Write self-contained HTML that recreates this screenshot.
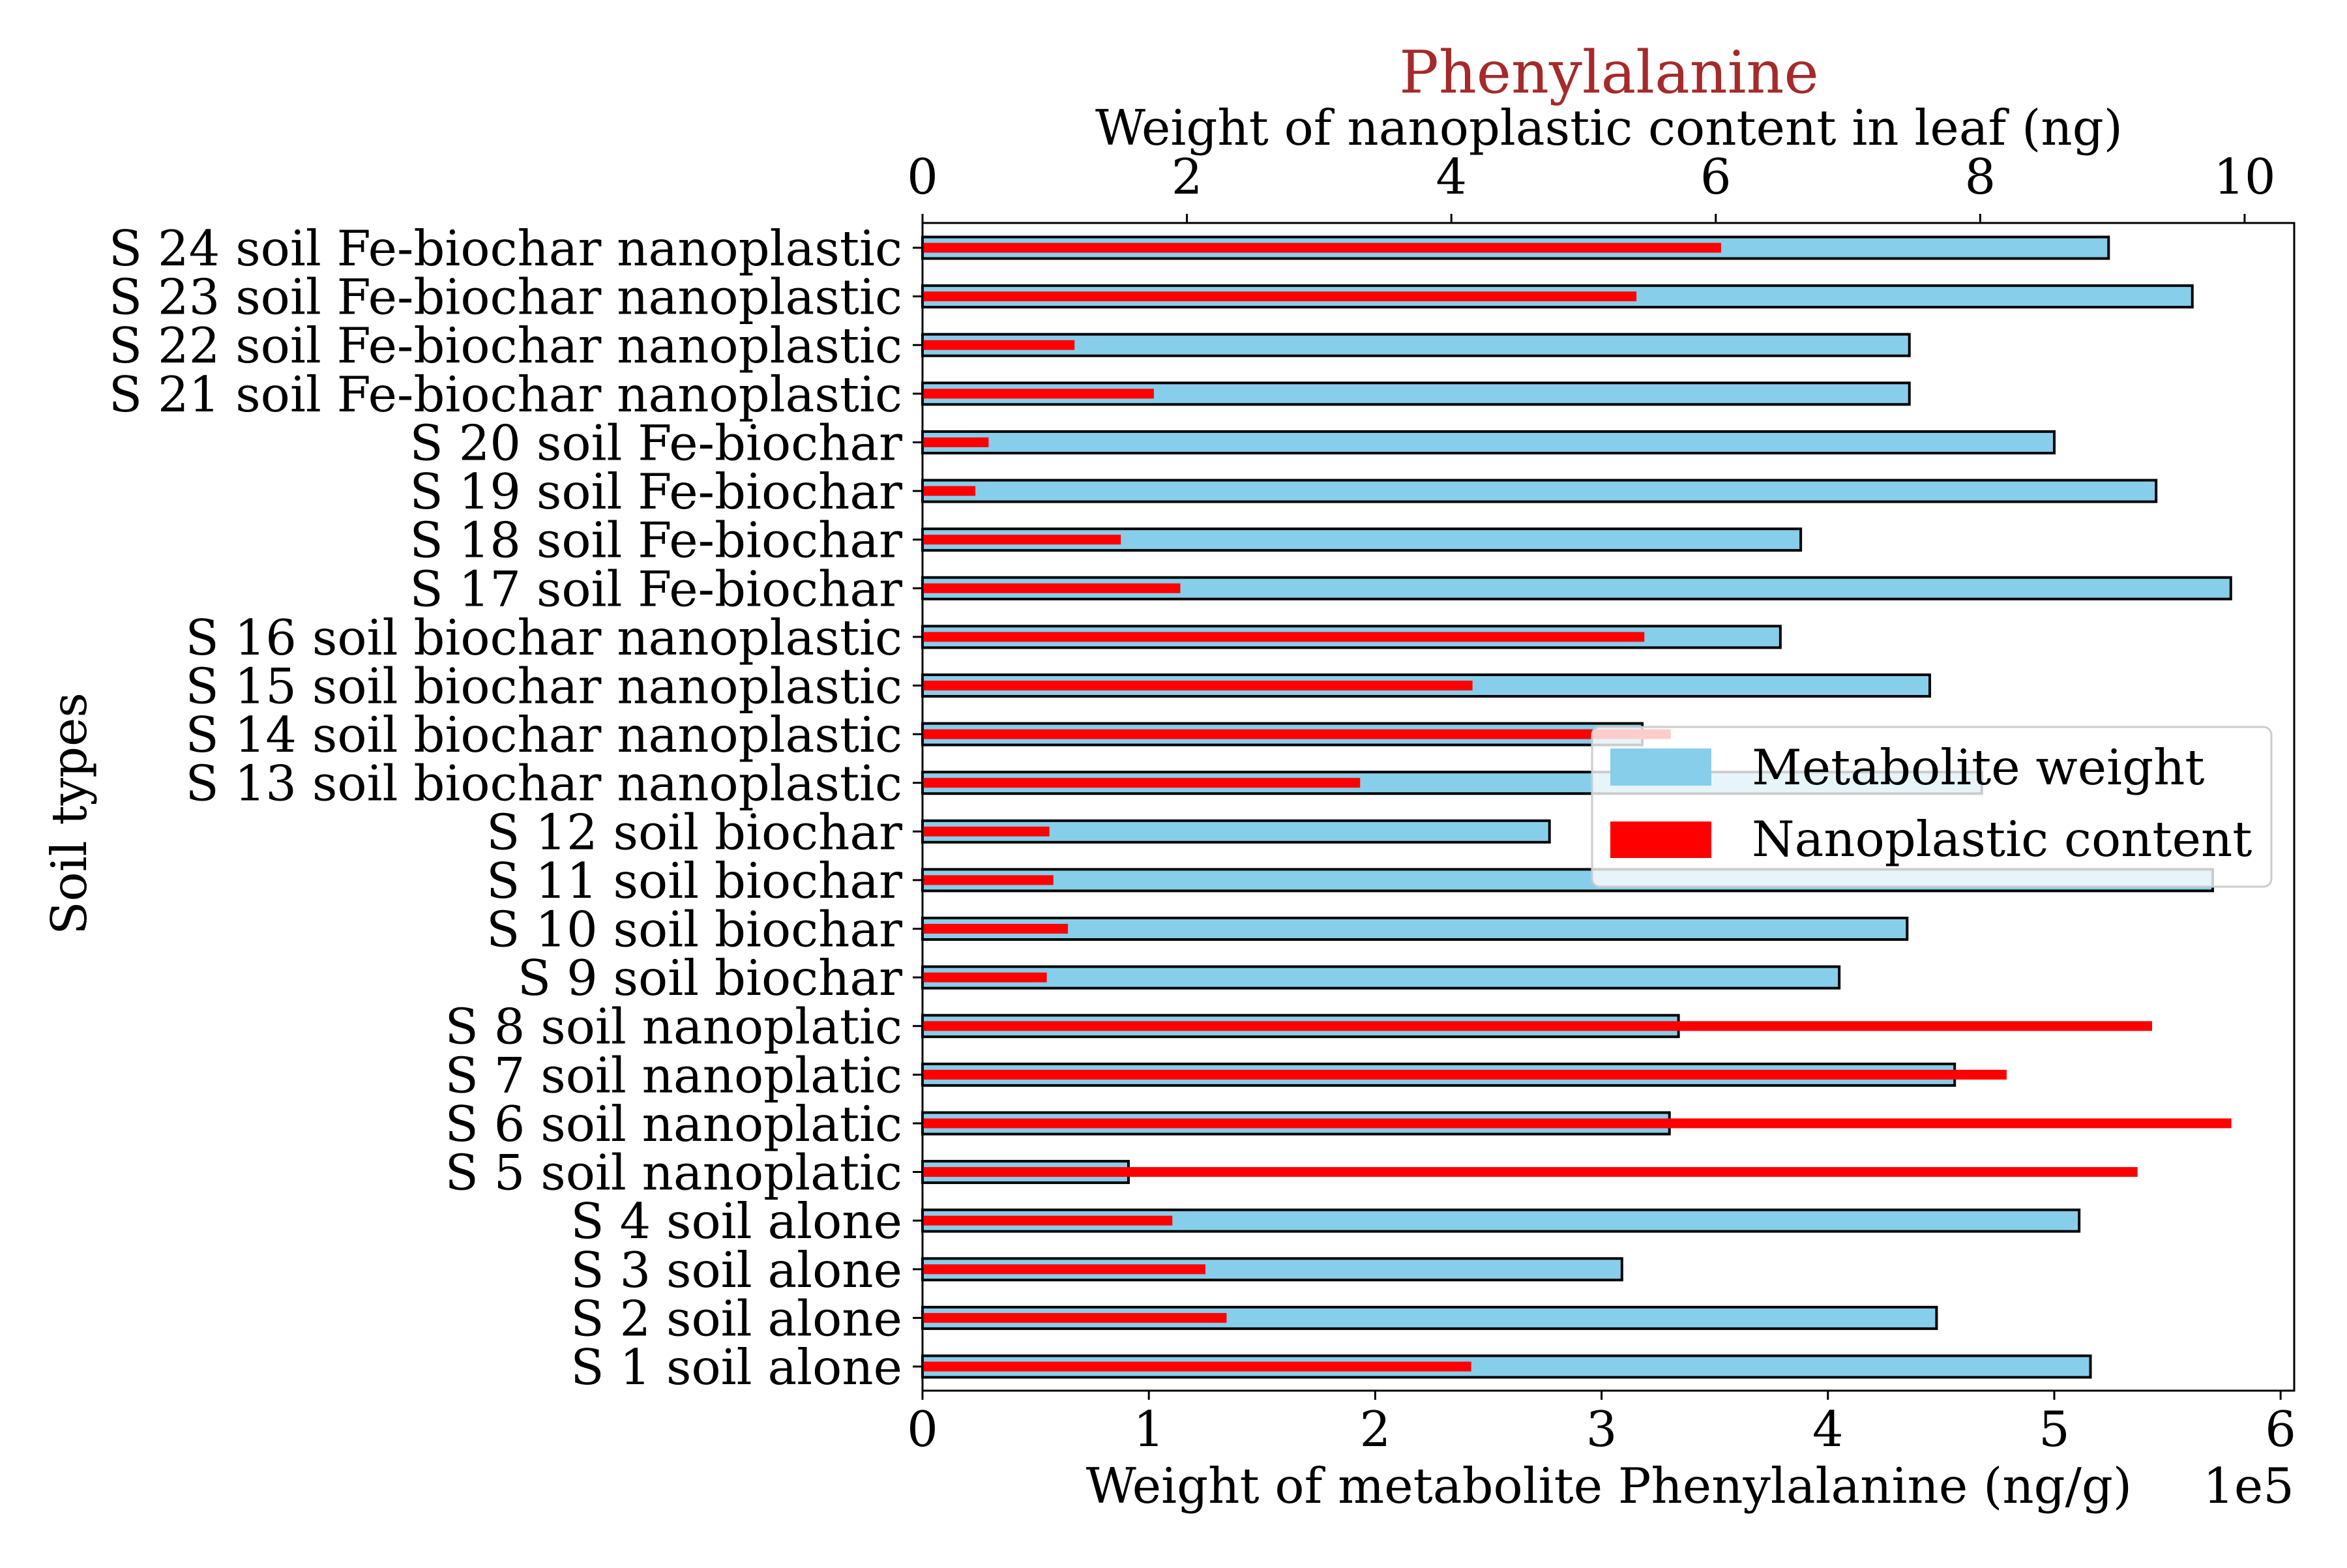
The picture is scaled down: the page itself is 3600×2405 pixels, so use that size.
<!DOCTYPE html>
<html><head><meta charset="utf-8"><style>
html,body{margin:0;padding:0;background:#fff;}
svg text{font-family:"DejaVu Serif","Liberation Serif",serif;}
</style></head><body>
<svg id="chart" width="3600" height="2400" viewBox="0 0 3600 2400" xmlns="http://www.w3.org/2000/svg">
<rect width="3600" height="2400" fill="#fff"/>
<g id="bars"></g>
<g id="axes"></g>
</svg>
<script>
const categories = ["S 1 soil alone","S 2 soil alone","S 3 soil alone","S 4 soil alone","S 5 soil nanoplatic","S 6 soil nanoplatic","S 7 soil nanoplatic","S 8 soil nanoplatic","S 9 soil biochar","S 10 soil biochar","S 11 soil biochar","S 12 soil biochar","S 13 soil biochar nanoplastic","S 14 soil biochar nanoplastic","S 15 soil biochar nanoplastic","S 16 soil biochar nanoplastic","S 17 soil Fe-biochar","S 18 soil Fe-biochar","S 19 soil Fe-biochar","S 20 soil Fe-biochar","S 21 soil Fe-biochar nanoplastic","S 22 soil Fe-biochar nanoplastic","S 23 soil Fe-biochar nanoplastic","S 24 soil Fe-biochar nanoplastic"];
const metaboliteWeight = [5.16,4.48,3.09,5.11,0.91,3.30,4.56,3.34,4.05,4.35,5.70,2.77,4.68,3.18,4.45,3.79,5.78,3.88,5.45,5.00,4.36,4.36,5.61,5.24];
const nanoplasticContent = [4.15,2.30,2.14,1.89,9.19,9.90,8.20,9.30,0.94,1.10,0.99,0.96,3.31,5.66,4.16,5.46,1.95,1.50,0.40,0.50,1.75,1.15,5.40,6.04];
const bottomTicks = [0,1,2,3,4,5,6];
const topTicks = [0,2,4,6,8,10];

const NS="http://www.w3.org/2000/svg";
const L=1415,R=3519,T=342,B=2133;
const bMax=6.06, tMax=10.375;
const xB=v=>L+(R-L)*v/bMax;
const xT=v=>L+(R-L)*v/tMax;
const yC=i=>2096-i*((2096-380)/(categories.length-1));
function mk(tag,attrs,parent,text){const e=document.createElementNS(NS,tag);for(const k in attrs)e.setAttribute(k,attrs[k]);if(text!==undefined)e.textContent=text;parent.appendChild(e);return e;}
const bars=document.getElementById('bars'), axes=document.getElementById('axes'), svg=document.getElementById('chart');

categories.forEach((c,i)=>{
  const y=yC(i);
  const b=mk('rect',{x:L,y:y-16.5,width:xB(metaboliteWeight[i])-L,height:33,fill:'#87ceeb',stroke:'#000','stroke-width':4},bars);
  
  
  const r=mk('rect',{x:L,y:y-7.5,width:xT(nanoplasticContent[i])-L,height:15,fill:'#ff0000'},bars);
  
  
  mk('line',{x1:1400,x2:L,y1:y,y2:y,stroke:'#000','stroke-width':3},axes);
  const t=mk('text',{x:1384,y:y+27,'font-size':75,'text-anchor':'end'},axes,c);
  
  
});
mk('rect',{x:L,y:T,width:R-L,height:B-T,fill:'none',stroke:'#000','stroke-width':3},axes);
bottomTicks.forEach(v=>{
  const x=xB(v);
  mk('line',{x1:x,x2:x,y1:B,y2:B+14,stroke:'#000','stroke-width':3},axes);
  const t=mk('text',{x:x,y:2218,'font-size':75,'text-anchor':'middle'},axes,String(v));
  
  
});
topTicks.forEach(v=>{
  const x=xT(v);
  mk('line',{x1:x,x2:x,y1:T-14,y2:T,stroke:'#000','stroke-width':3},axes);
  const t=mk('text',{x:x,y:297,'font-size':75,'text-anchor':'middle'},axes,String(v));
  
  
});
const lg=mk('g',{},svg);


mk('rect',{x:2442,y:1115,width:1042,height:245,rx:12,fill:'#fff','fill-opacity':0.8,stroke:'#ccc','stroke-width':3},lg);
mk('rect',{x:2470,y:1148,width:155,height:57,fill:'#87ceeb'},lg);
mk('text',{x:2687,y:1203,'font-size':75},lg,'Metabolite weight');
mk('rect',{x:2470,y:1260,width:155,height:56,fill:'#ff0000'},lg);
mk('text',{x:2687,y:1313,'font-size':75},lg,'Nanoplastic content');
</script>
<svg style="position:absolute;left:0;top:0" width="3600" height="2400">
<text x="2468" y="142" font-size="90" fill="#a52a2a" text-anchor="middle" font-family="DejaVu Serif, serif">Phenylalanine</text>
<text x="2468" y="222" font-size="75" text-anchor="middle" font-family="DejaVu Serif, serif">Weight of nanoplastic content in leaf (ng)</text>
<text x="2468" y="2305" font-size="75" text-anchor="middle" font-family="DejaVu Serif, serif">Weight of metabolite Phenylalanine (ng/g)</text>
<text x="3519" y="2305" font-size="75" text-anchor="end" font-family="DejaVu Serif, serif">1e5</text>
<text transform="translate(132,1248) rotate(-90)" font-size="75" text-anchor="middle" font-family="DejaVu Serif, serif">Soil types</text>
</svg>
</body></html>
